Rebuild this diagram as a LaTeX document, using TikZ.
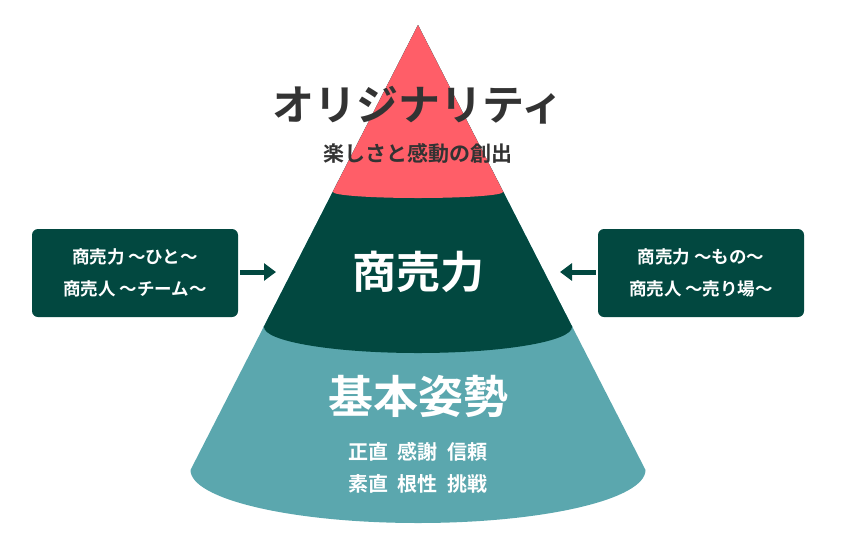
\documentclass[tikz,border=0pt]{standalone}
\usepackage{fontspec}
\newfontfamily\jp{Noto Sans CJK JP}[BoldFont={* Bold}]
\usetikzlibrary{arrows.meta}
\definecolor{peakRed}{HTML}{FF5E68}
\definecolor{deepGreen}{HTML}{024840}
\definecolor{baseTeal}{HTML}{5BA7AE}
\definecolor{inkGray}{HTML}{333333}

\begin{document}
\begin{tikzpicture}[x=1pt, y=-1pt, every node/.style={inner sep=0pt, font=\jp\bfseries},
	sidebox/.style={fill=deepGreen, rounded corners=6pt, minimum width=206pt, minimum height=88pt, text=white, align=center, font=\jp\bfseries\fontsize{17.5}{32}\selectfont},
	pusharrow/.style={deepGreen, line width=5pt, -{Triangle[length=12pt, width=17pt]}}]
	\useasboundingbox (0,0) rectangle (846,547);
	% cone body
	\def\cone{(418,25) -- (190.5,470) arc[start angle=180, end angle=0, x radius=227.5, y radius=53] -- cycle}
	\fill[baseTeal] \cone;
	\begin{scope}
		\clip \cone;
		\fill[deepGreen] (100,0) -- (100,327) -- (264,327) arc[start angle=180, end angle=0, x radius=154, y radius=26] -- (750,327) -- (750,0) -- cycle;
		\fill[peakRed] (100,0) -- (100,192) -- (333,192) arc[start angle=180, end angle=0, x radius=85, y radius=6] -- (750,192) -- (750,0) -- cycle;
	\end{scope}
	% texts
	\node[text=inkGray, font=\jp\bfseries\fontsize{42}{44}\selectfont] (title) at (418,105) {オリジナリティ};
	\node[text=inkGray, font=\jp\bfseries\fontsize{21}{24}\selectfont] (subtitle) at (418,153) {楽しさと感動の創出};
	\node[text=white, font=\jp\bfseries\fontsize{44}{46}\selectfont] (sales) at (418,272) {商売力};
	\node[text=white, font=\jp\bfseries\fontsize{45}{46}\selectfont] (basis) at (418,396) {基本姿勢};
	\node[text=white, align=center, font=\jp\bfseries\fontsize{20}{32}\selectfont] (virtues) at (418,468) {正直\ \ 感謝\ \ 信頼\\素直\ \ 根性\ \ 挑戦};
	% side boxes
	\node[sidebox] (leftbox) at (135,273) {商売力 〜ひと〜\\商売人 〜チーム〜};
	\node[sidebox] (rightbox) at (701,273) {商売力 〜もの〜\\商売人 〜売り場〜};
	\coordinate (lefttip) at (276,272);
	\coordinate (righttip) at (560,272);
	\draw[pusharrow] (leftbox.east) ++(2,-1) -- (lefttip);
	\draw[pusharrow] (rightbox.west) ++(-2,-1) -- (righttip);
\end{tikzpicture}
\end{document}
